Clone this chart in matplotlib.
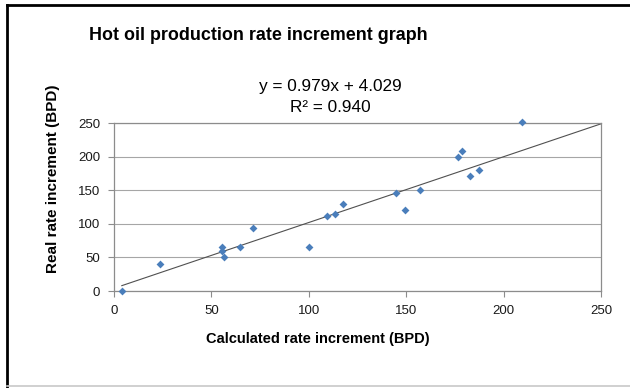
import matplotlib
matplotlib.use("Agg")
import matplotlib.pyplot as plt
from matplotlib.lines import Line2D
import numpy as np

plt.rcParams['font.family'] = ['Liberation Sans', 'DejaVu Sans']

calc = [4, 23.5, 55.6, 55.6, 56.4, 64.7, 71.4, 100, 109.4, 113.4, 117.3,
        144.6, 149.2, 156.9, 176.8, 178.6, 182.7, 187.5, 209.4]
real = [0, 40, 65.5, 60, 50, 65, 94, 65, 111, 114, 129,
        145.5, 121, 150, 200, 209, 170.5, 179.5, 251]
slope = 0.979
intercept = 4.029
r2 = 0.940
xticks = [0, 50, 100, 150, 200, 250]
yticks = [0, 50, 100, 150, 200, 250]

fig = plt.figure(figsize=(6.30, 3.88), dpi=100)
ax = fig.add_axes([114/630, 1-291/388, (601-114)/630, (291-123)/388])

ax.set_xlim(0, 250)
ax.set_ylim(0, 250)
ax.set_xticks(xticks)
ax.set_yticks(yticks)
ax.grid(axis='y', color='#a6a6a6', lw=0.8)
ax.set_axisbelow(True)
for s in ax.spines.values():
    s.set_color('#8c8c8c')
    s.set_linewidth(0.9)
ax.tick_params(direction='out', length=4, color='#8c8c8c', labelsize=9.5,
               labelcolor='#1a1a1a', pad=6)

xl = np.array([min(calc), 250])
ax.plot(xl, slope * xl + intercept, color='#505050', lw=0.8, zorder=2)
ax.scatter(calc, real, marker='D', s=16, color='#4a7ebb', zorder=3,
           clip_on=False, linewidths=0)

fig.text(318/630, 1-339/388, 'Calculated rate increment (BPD)', fontsize=10.5,
         fontweight='bold', ha='center', va='center')
fig.text(53/630, 1-179/388, 'Real rate increment (BPD)', fontsize=11,
         fontweight='bold', ha='center', va='center', rotation=90)

fig.text(89/630, 1-35/388, 'Hot oil production rate increment graph',
         fontsize=12.9, fontweight='bold', ha='left', va='center')
fig.text(330/630, 1-87/388, f'y = {slope:.3f}x + {intercept:.3f}',
         fontsize=12.4, ha='center', va='center')
fig.text(330/630, 1-107/388, f'R² = {r2:.3f}',
         fontsize=12.4, ha='center', va='center')

fig.add_artist(Line2D([7/630, 1], [1-5/388, 1-5/388], color='black',
                      lw=2, transform=fig.transFigure))
fig.add_artist(Line2D([7/630, 7/630], [1-5/388, 0], color='black',
                      lw=2, transform=fig.transFigure))
fig.add_artist(Line2D([7/630, 1], [1-386/388, 1-386/388], color='#c8c8c8',
                      lw=1.2, transform=fig.transFigure))

fig.savefig('out.png', dpi=100)
